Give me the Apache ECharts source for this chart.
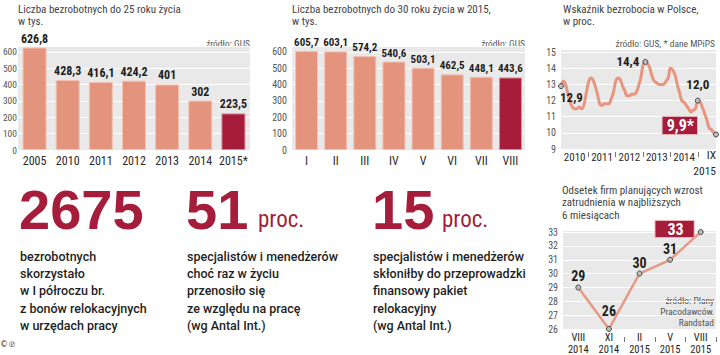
<!DOCTYPE html>
<html><head><meta charset="utf-8">
<script src="https://cdn.jsdelivr.net/npm/echarts@6/dist/echarts.min.js"></script>
<style>html,body{margin:0;padding:0;background:#fff}#c{width:720px;height:355px}</style>
</head><body><div id="c"></div>
<script>
// ---- data ----
const youth25Years = ['2005', '2010', '2011', '2012', '2013', '2014', '2015*'];
const youth25Values = [626.8, 428.3, 416.1, 424.2, 401, 302, 223.5];

const youth30Months = ['I', 'II', 'III', 'IV', 'V', 'VI', 'VII', 'VIII'];
const youth30Values = [605.7, 603.1, 574.2, 540.6, 503.1, 462.5, 448.1, 443.6];

const unempYears = ['2010', '2011', '2012', '2013', '2014', '2015'];
const unemp2010 = [12.9, 13.2, 13.0, 12.4, 11.9, 11.6, 11.5, 11.5, 11.6, 11.5, 11.7, 12.4];
const unemp2011 = [13.1, 13.4, 13.3, 12.9, 12.4, 11.8, 11.7, 11.8, 11.8, 11.8, 12.1, 12.5];
const unemp2012 = [13.2, 13.4, 13.3, 12.9, 12.6, 12.3, 12.3, 12.4, 12.4, 12.5, 12.9, 13.4];
const unemp2013 = [14.2, 14.4, 14.3, 14.0, 13.5, 13.2, 13.1, 13.0, 13.0, 13.0, 13.2, 13.4];
const unemp2014 = [14.0, 13.9, 13.6, 13.0, 12.5, 12.0, 11.9, 11.7, 11.5, 11.3, 11.4, 11.5];
const unemp2015 = [12.0, 11.9, 11.6, 11.2, 10.8, 10.3, 10.2, 10.0, 9.9];
const romanMonths = ['I', 'II', 'III', 'IV', 'V', 'VI', 'VII', 'VIII', 'IX', 'X', 'XI', 'XII'];
const unempLabelled = [0, 37, 60, 68]; // I 2010, II 2013, I 2015, IX 2015

const firmsPeriods = ['VIII\n2014', 'XI\n2014', 'II\n2015', 'V\n2015', 'VIII\n2015'];
const firmsValues = [29, 26, 30, 31, 33];

// ---- styles ----
const NARROW = '"Liberation Sans Narrow", "Arial Narrow", "Roboto Condensed", Roboto, sans-serif';
const SANS = 'Roboto, Lato, "Liberation Sans", sans-serif';
const BIG = '"Liberation Sans", Arial, sans-serif';
const RED = '#a51d3a';
const SALMON = '#e4937d';
const BG = '#e9e9e9';
const fmt = (v, d) => (d == null ? String(v) : v.toFixed(d)).replace('.', ',');

const unempByYear = [unemp2010, unemp2011, unemp2012, unemp2013, unemp2014, unemp2015];
const unempCats = [], unempValues = [];
unempByYear.forEach((arr, yi) => arr.forEach((v, m) => {
  unempCats.push(romanMonths[m] + ' ' + unempYears[yi]);
  unempValues.push(v);
}));
const lastU = unempValues.length - 1;

const valLabel = (fs) => ({ show: true, position: 'top', distance: 3, color: '#1e1e1e', fontFamily: NARROW, fontWeight: 'bold', fontSize: fs, formatter: p => fmt(p.value) });
const boxLabel = { color: '#fff', backgroundColor: RED, borderColor: '#e6b4b4', borderWidth: 1, fontFamily: NARROW, fontWeight: 'bold', fontSize: 16, lineHeight: 16 };

function yAx(grid, min, max, interval, fs, margin) {
  return {
    type: 'value', gridIndex: grid, min: min, max: max, interval: interval,
    axisLine: { show: false }, axisTick: { show: false },
    axisLabel: { showMaxLabel: false, color: '#555', fontSize: fs || 10, fontFamily: NARROW, margin: margin == null ? 5 : margin },
    splitLine: { lineStyle: { color: '#fff', width: 1 } }
  };
}
const catLabel = { color: '#2a2a2a', fontSize: 12, fontFamily: NARROW, margin: 5, interval: 0 };
const noLine = { show: false };

const unempData = unempValues.map((v, i) => {
  if (!unempLabelled.includes(i)) return { value: v, symbol: 'none' };
  const it = { value: v, symbol: 'circle', symbolSize: 5, label: { show: true } };
  if (i === 0) it.label.position = [2, 8];
  else if (i === 37) { it.label.position = 'left'; it.label.distance = 3; }
  else if (i === 60) { it.label.position = 'top'; it.label.distance = 7; }
  else if (i === lastU) {
    it.label = Object.assign({ show: true, position: 'left', distance: 16, offset: [0, -9],
      padding: [1, 3, 0, 4], formatter: p => fmt(p.value, 1) + '*' }, boxLabel);
  }
  return it;
});

const firmsData = firmsValues.map((v, i) => {
  const it = { value: v };
  if (i === 1) it.label = { distance: 8 };
  if (i === firmsValues.length - 1) {
    it.label = Object.assign({ position: 'left', distance: 4, offset: [0, -3], padding: [0, 10, 0, 12] }, boxLabel);
  }
  return it;
});

const txt = (x, y, text, o) => ({ type: 'text', x: x, y: y, silent: true,
  style: Object.assign({ text: text, fill: '#444', fontSize: 11, fontFamily: NARROW, verticalAlign: 'top' }, o || {}) });

const gridBase = { show: true, backgroundColor: BG, borderWidth: 0, outerBoundsMode: 'none', containLabel: false };

const option = {
  animation: false,
  grid: [
    Object.assign({ left: 18, top: 46, width: 232, height: 104 }, gridBase),
    Object.assign({ left: 292, top: 46, width: 233, height: 104 }, gridBase),
    Object.assign({ left: 561, top: 49, width: 155, height: 100 }, gridBase),
    Object.assign({ left: 563, top: 230, width: 153, height: 99 }, gridBase)
  ],
  xAxis: [
    { type: 'category', gridIndex: 0, position: 'bottom', data: youth25Years, axisLine: noLine, axisTick: { show: false }, axisLabel: catLabel },
    { type: 'category', gridIndex: 1, position: 'bottom', data: youth30Months, axisLine: noLine, axisTick: { show: false }, axisLabel: catLabel },
    // unemployment: year labels mid-year
    { type: 'category', gridIndex: 2, position: 'bottom', data: unempCats, boundaryGap: false, axisLine: noLine, axisTick: { show: false },
      axisLabel: { color: '#2a2a2a', fontSize: 11, fontFamily: NARROW, margin: 2, lineHeight: 13, hideOverlap: false,
        interval: (i) => i % 12 === 6 && i < 60, formatter: (v) => v.split(' ')[1] } },
    // unemployment: year ticks
    { type: 'category', gridIndex: 2, position: 'bottom', data: unempCats, boundaryGap: false, offset: 3, axisLine: noLine,
      axisTick: { show: true, length: 5, interval: (i) => i % 12 === 0 && i > 0, lineStyle: { color: '#777' } }, axisLabel: { show: false } },
    // unemployment: last month label
    { type: 'category', gridIndex: 2, position: 'bottom', data: unempCats, boundaryGap: false, axisLine: noLine, axisTick: { show: false },
      axisLabel: { color: '#2a2a2a', fontSize: 11.5, fontFamily: NARROW, margin: -2, lineHeight: 16, align: 'right', showMaxLabel: true, hideOverlap: false,
        interval: (i) => i === lastU, formatter: (v) => v.replace(' ', '\n') } },
    { type: 'category', gridIndex: 3, position: 'bottom', data: firmsPeriods, axisLine: noLine, axisTick: { show: false },
      axisLabel: { color: '#1e1e1e', fontSize: 10.5, fontFamily: NARROW, margin: 3, lineHeight: 11.5, interval: 0 } },
    { type: 'category', gridIndex: 3, position: 'bottom', data: firmsPeriods, offset: 8, axisLine: noLine,
      axisTick: { show: true, length: 5, interval: (i) => i >= 2 && i <= 4, lineStyle: { color: '#777' } }, axisLabel: { show: false } }
  ],
  yAxis: [ yAx(0, 0, 636, 100, 9.5, 1), yAx(1, 0, 636, 100), yAx(2, 9, 15.2, 1), yAx(3, 26, 33.15, 1) ],
  series: [
    { type: 'bar', xAxisIndex: 0, yAxisIndex: 0, barWidth: 24,
      itemStyle: { color: SALMON, borderColor: '#f3c2b3', borderWidth: 1 },
      label: valLabel(12),
      data: youth25Values.map((v, i) => i === youth25Values.length - 1 ? { value: v, itemStyle: { color: RED, borderColor: '#d98a94' } } : v) },
    { type: 'bar', xAxisIndex: 1, yAxisIndex: 1, barWidth: 23,
      itemStyle: { color: SALMON, borderColor: '#f3c2b3', borderWidth: 1 },
      label: valLabel(11),
      data: youth30Values.map((v, i) => i === youth30Values.length - 1 ? { value: v, itemStyle: { color: RED, borderColor: '#d98a94' } } : v) },
    { type: 'line', xAxisIndex: 2, yAxisIndex: 2, smooth: 0.35, data: unempData, showAllSymbol: true,
      lineStyle: { color: '#e8957e', width: 3 },
      itemStyle: { color: '#bdbdbd', borderColor: '#444', borderWidth: 1 },
      label: { color: '#1e1e1e', fontFamily: NARROW, fontWeight: 'bold', fontSize: 13, formatter: p => fmt(p.value, 1) },
      z: 3 },
    { type: 'line', xAxisIndex: 5, yAxisIndex: 3, data: firmsData, symbol: 'circle', symbolSize: 5, showAllSymbol: true,
      lineStyle: { color: '#e59a85', width: 2.5 },
      itemStyle: { color: '#bdbdbd', borderColor: '#444', borderWidth: 1 },
      label: { show: true, position: 'top', distance: 1, color: '#1e1e1e', fontFamily: NARROW, fontWeight: 'bold', fontSize: 14, formatter: p => fmt(p.value) },
      z: 3 }
  ],
  graphic: [
    txt(18, 3.5, 'Liczba bezrobotnych do 25 roku życia\nw tys.', { lineHeight: 12 }),
    txt(292, 3.5, 'Liczba bezrobotnych do 30 roku życia w 2015,\nw tys.', { lineHeight: 12 }),
    txt(563, 3.5, 'Wskaźnik bezrobocia w Polsce,\nw proc.', { lineHeight: 12 }),
    txt(562, 184, 'Odsetek firm planujących wzrost\nzatrudnienia w najbliższych\n6 miesiącach', { lineHeight: 12.5 }),
    txt(250, 38, 'źródło: GUS', { align: 'right', fontSize: 9.5, fill: '#555' }),
    txt(525, 38, 'źródło: GUS', { align: 'right', fontSize: 9.5, fill: '#555' }),
    txt(715, 38, 'źródło: GUS, * dane MPiPS', { align: 'right', fontSize: 9.5, fill: '#555' }),
    txt(714, 295, 'źródło: Plany\nPracodawców,\nRandstad', { align: 'right', fontSize: 9.5, fill: '#555', lineHeight: 11 }),
    txt(19, 209, '2675', { verticalAlign: 'middle', fontFamily: BIG, fontWeight: 'bold', fontSize: 56, fill: RED }),
    txt(186, 209, '51', { verticalAlign: 'middle', fontFamily: BIG, fontWeight: 'bold', fontSize: 56, fill: RED }),
    txt(258, 219, 'proc.', { verticalAlign: 'middle', fontFamily: NARROW, fontSize: 23, fill: RED }),
    txt(372, 209, '15', { verticalAlign: 'middle', fontFamily: BIG, fontWeight: 'bold', fontSize: 56, fill: RED }),
    txt(442, 219, 'proc.', { verticalAlign: 'middle', fontFamily: NARROW, fontSize: 23, fill: RED }),
    txt(20, 247.5, 'bezrobotnych\nskorzystało\nw I półroczu br.\nz bonów relokacyjnych\nw urzędach pracy', { fontFamily: SANS, fontWeight: 500, fontSize: 12.5, lineHeight: 17.3, fill: '#1e1e1e' }),
    txt(187, 247.5, 'specjalistów i menedżerów\nchoć raz w życiu\nprzenosiło się\nze względu na pracę\n(wg Antal Int.)', { fontFamily: SANS, fontWeight: 500, fontSize: 12.5, lineHeight: 17.3, fill: '#1e1e1e' }),
    txt(373, 247.5, 'specjalistów i menedżerów\nskłoniłby do przeprowadzki\nfinansowy pakiet\nrelokacyjny\n(wg Antal Int.)', { fontFamily: SANS, fontWeight: 500, fontSize: 12.5, lineHeight: 17.3, fill: '#1e1e1e' }),
    txt(0, 340, '©℗', { fontSize: 8, fill: '#333', fontFamily: 'DejaVu Sans' })
  ]
};
const chart = echarts.init(document.getElementById('c'), null, { renderer: 'svg' });
chart.setOption(option);
</script></body></html>
